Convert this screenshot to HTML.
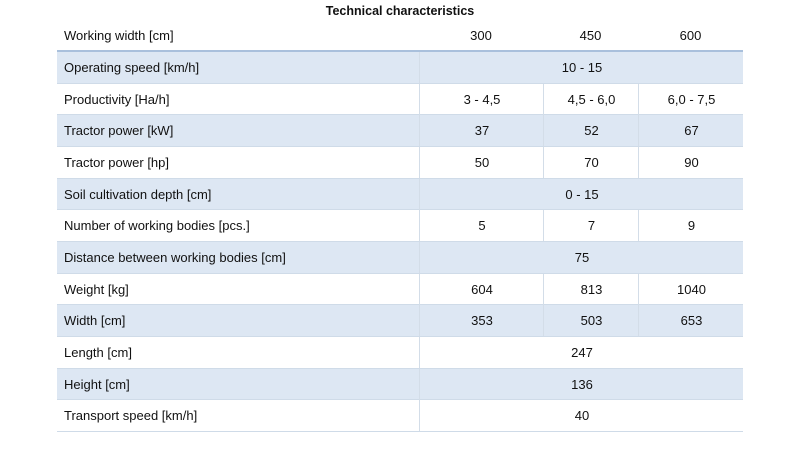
<!DOCTYPE html>
<html><head><style>
body{margin:0;width:800px;height:456px;background:#fff;font-family:"Liberation Sans",sans-serif;font-size:13px;color:#111;position:relative;overflow:hidden}
.t{position:absolute;top:4px;left:0;width:800px;text-align:center;font-weight:bold;font-size:12.5px}
.r{position:absolute;left:57px;width:686px;height:31px;border-bottom:1px solid #cfdbe8}
.s{background:#dde7f3}
.c{position:absolute;top:0;height:31px;line-height:31px;text-align:center}
.l{left:7px;text-align:left}
.v{border-left:1px solid #d3dde8}
</style></head><body>
<div class="t">Technical characteristics</div>
<div class="r" style="top:20px;border-bottom:2px solid #a9c0dc;height:30px">
<div class="c l">Working width [cm]</div><div class="c" style="left:362px;width:124px">300</div><div class="c" style="left:486px;width:95px">450</div><div class="c" style="left:581px;width:105px">600</div></div>
<div id="rows"></div>
<script>
var d=[["Operating speed [km/h]","10 - 15"],["Productivity [Ha/h]","3 - 4,5","4,5 - 6,0","6,0 - 7,5"],["Tractor power [kW]","37","52","67"],["Tractor power [hp]","50","70","90"],["Soil cultivation depth [cm]","0 - 15"],["Number of working bodies [pcs.]","5","7","9"],["Distance between working bodies [cm]","75"],["Weight [kg]","604","813","1040"],["Width [cm]","353","503","653"],["Length [cm]","247"],["Height [cm]","136"],["Transport speed [km/h]","40"]];
var h="";d.forEach(function(r,i){var top=52+i*31.67;h+='<div class="r'+(i%2==0?' s':'')+'" style="top:'+top+'px;height:30.67px"><div class="c l">'+r[0]+'</div>';
if(r.length==2)h+='<div class="c v" style="left:362px;width:324px">'+r[1]+'</div>';
else h+='<div class="c v" style="left:362px;width:124px">'+r[1]+'</div><div class="c v" style="left:486px;width:95px">'+r[2]+'</div><div class="c v" style="left:581px;width:105px">'+r[3]+'</div>';
h+='</div>';});document.getElementById("rows").innerHTML=h;
</script>
</body></html>
